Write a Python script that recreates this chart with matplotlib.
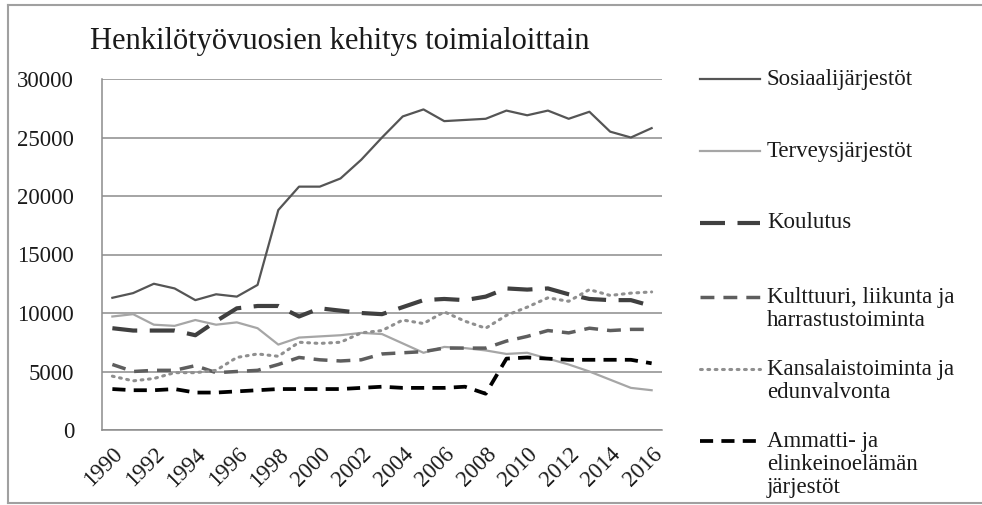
import matplotlib
matplotlib.use("Agg")
import matplotlib.pyplot as plt
from matplotlib.lines import Line2D

# data
years = list(range(1990, 2017))
sosiaali = [11300, 11700, 12500, 12100, 11100, 11600, 11400, 12400, 18800, 20800,
            20800, 21500, 23100, 25000, 26800, 27400, 26400, 26500, 26600, 27300,
            26900, 27300, 26600, 27200, 25500, 25000, 25800]
terveys = [9700, 9900, 9000, 8900, 9400, 9000, 9200, 8700, 7300, 7900,
           8000, 8100, 8300, 8200, 7400, 6600, 7100, 7000, 6800, 6500,
           6600, 6100, 5600, 5000, 4300, 3600, 3400]
koulutus = [8700, 8500, 8500, 8500, 8100, 9300, 10400, 10600, 10600, 9700,
            10400, 10200, 10000, 9900, 10500, 11100, 11200, 11100, 11400, 12100,
            12000, 12100, 11600, 11200, 11100, 11100, 10600]
kulttuuri = [5600, 5000, 5100, 5100, 5500, 4900, 5000, 5100, 5600, 6200,
             6000, 5900, 6000, 6500, 6600, 6700, 7000, 7000, 7000, 7600,
             8000, 8500, 8300, 8700, 8500, 8600, 8600]
kansalais = [4600, 4200, 4400, 4900, 4900, 5100, 6200, 6500, 6300, 7500,
             7400, 7500, 8300, 8500, 9400, 9100, 10100, 9300, 8700, 9800,
             10500, 11300, 11000, 12000, 11500, 11700, 11800]
ammatti = [3500, 3400, 3400, 3500, 3200, 3200, 3300, 3400, 3500, 3500,
           3500, 3500, 3600, 3700, 3600, 3600, 3600, 3700, 3100, 6100,
           6200, 6100, 6000, 6000, 6000, 6000, 5700]

labels = ["Sosiaalijärjestöt", "Terveysjärjestöt", "Koulutus",
          "Kulttuuri, liikunta ja\nharrastustoiminta",
          "Kansalaistoiminta ja\nedunvalvonta",
          "Ammatti- ja\nelinkeinoelämän\njärjestöt"]
title = "Henkilötyövuosien kehitys toimialoittain"

plt.rcParams["font.family"] = ["Liberation Serif", "DejaVu Serif"]
txt = "#1a1a1a"
grid_c = "#8c8c8c"

styles = [
    dict(color="#555555", lw=1.6, ls="-"),
    dict(color="#a6a6a6", lw=1.6, ls="-"),
    dict(color="#404040", lw=3.0, ls=(0, (6, 3))),
    dict(color="#5e5e5e", lw=2.5, ls=(0, (4, 2.6))),
    dict(color="#8f8f8f", lw=2.2, ls=(0, (0.6, 1.8)), dash_capstyle="round"),
    dict(color="#000000", lw=2.7, ls=(0, (3.5, 2.2))),
]
series = [sosiaali, terveys, koulutus, kulttuuri, kansalais, ammatti]

fig = plt.figure(figsize=(9.82, 5.05), dpi=100)
W, H = 982, 505
ax = fig.add_axes([102 / W, 1 - 430 / H, 560 / W, 351 / H])

x = list(range(len(years)))
for s, st in zip(series, styles):
    ax.plot(x, s, **st)

ax.set_xlim(-0.5, len(years) - 0.5)
ax.set_ylim(0, 30000)
ax.set_yticks(range(0, 30001, 5000))
ax.set_xticks(x[::2])
ax.set_xticklabels([str(y) for y in years[::2]], rotation=45, ha="right",
                   va="top", rotation_mode="anchor")
ax.tick_params(axis="both", length=0, labelsize=16.5, colors=txt)
ax.tick_params(axis="y", pad=20)
ax.tick_params(axis="x", pad=10)
ax.grid(axis="y", color=grid_c, lw=1.1)
ax.set_axisbelow(True)
for sp in ["top", "right"]:
    ax.spines[sp].set_visible(False)
for sp in ["left", "bottom"]:
    ax.spines[sp].set_color(grid_c)
    ax.spines[sp].set_linewidth(1.1)

fig.text(90 / W, 1 - 42 / H, title, fontsize=22, color=txt, va="center", ha="left")

# manual legend, handle aligned with first text line
leg_y = [79, 151, 223, 297, 369, 441]
for lab, st, yy in zip(labels, styles, leg_y):
    fy = 1 - yy / H
    fig.add_artist(Line2D([700 / W, 760 / W], [fy, fy], **st))
    for i, line in enumerate(lab.split("\n")):
        fig.text(767 / W, 1 - (yy + i * 23.5) / H, line, fontsize=16.5,
                 color=txt, va="center", ha="left")

# outer frame: top, left and bottom only (right side is cut off)
bc = "#a0a0a0"
fig.add_artist(Line2D([8 / W, 1], [1 - 5 / H, 1 - 5 / H], color=bc, lw=1.5))
fig.add_artist(Line2D([8 / W, 8 / W], [1 - 5 / H, 1 - 503 / H], color=bc, lw=1.5))
fig.add_artist(Line2D([8 / W, 1], [1 - 503 / H, 1 - 503 / H], color=bc, lw=1.5))

fig.savefig("out.png", dpi=100)
